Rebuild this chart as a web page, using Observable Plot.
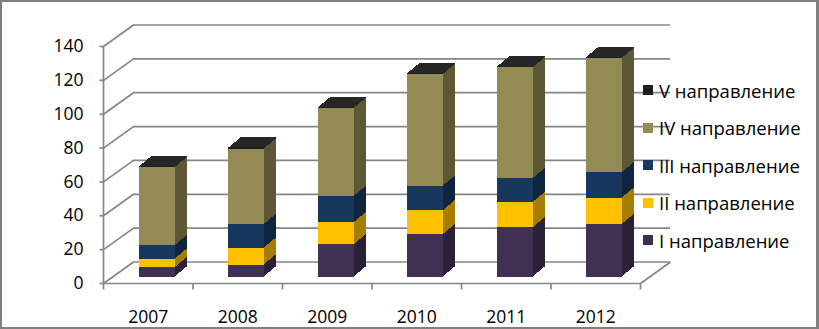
<!DOCTYPE html>
<html>
<head>
<meta charset="utf-8">
<script src="https://cdn.jsdelivr.net/npm/d3@7"></script>
<script src="https://cdn.jsdelivr.net/npm/@observablehq/plot@0.6"></script>
<style>
  html, body { margin: 0; padding: 0; background: #fff; }
  #wrap { position: relative; width: 819px; height: 329px; overflow: hidden; font-family: "Open Sans", sans-serif; }
  #frame { position: absolute; left: 0; top: 0; width: 819px; height: 329px; box-sizing: border-box;
           border-style: solid; border-color: #7f7f7f; border-width: 2px 3px 2px 2px; pointer-events: none; }
  .leg { position: absolute; left: 643px; height: 24px; display: flex; align-items: center; font-size: 18.5px; color: #000; white-space: nowrap; }
  .leg span.sw { display: inline-block; width: 10px; height: 10px; margin-right: 6px; }
</style>
</head>
<body>
<div id="wrap"></div>
<script>
// ---- data ----
const years = ["2007", "2008", "2009", "2010", "2011", "2012"];
const seriesNames = ["I направление", "II направление", "III направление", "IV направление", "V направление"];
const seriesI   = [5.5, 7, 19, 25, 29, 31];
const seriesII  = [5, 10, 13, 14, 15, 15.5];
const seriesIII = [8, 14, 15.5, 14.5, 14, 15];
const seriesIV  = [46, 44.5, 52, 66, 65.5, 67.5];
const seriesV   = [0.8, 0.8, 0.8, 0.8, 0.8, 0.8];
const yTicks = [0, 20, 40, 60, 80, 100, 120, 140];

// ---- styles ----
const frontColors = ["#403152", "#FFC000", "#17375E", "#948A54", "#1F1F1F"];
const sideColors  = ["#2A2037", "#A67D00", "#0F243E", "#5E5736", "#262626"];
const grid = "#868686";

const W = 819, H = 329, ML = 103, MR = 179, MT = 46, MB = 46;
const pxX = (W - ML - MR) / years.length;   // pixels per category unit
const pxY = (H - MT - MB) / 140;            // pixels per value unit
const wall = {dx: 30, dy: 21.5};            // back wall depth (px)
const barOff = {dx: 9, dy: 6.5};            // bar front plane offset (px)
const barDepth = {dx: 12, dy: 10};          // bar extrusion (px)
const bw = 36 / pxX;                        // bar width in category units

const allSeries = [seriesI, seriesII, seriesIII, seriesIV, seriesV];
const table = [];
years.forEach((yr, i) => {
  let cum = 0;
  allSeries.forEach((arr, s) => {
    table.push({i, s, year: yr, y1: cum, y2: cum + arr[i]});
    cum += arr[i];
  });
});

const x1 = d => d.i + 0.5 - bw / 2;
const x2 = d => d.i + 0.5 + bw / 2;

const marks = [];
const sw = 1.7;
// back wall gridlines
marks.push(Plot.ruleY(yTicks, {dx: wall.dx, dy: -wall.dy, stroke: grid, strokeWidth: sw}));
// left side-wall diagonals
marks.push(Plot.link(yTicks, {x1: 0, x2: wall.dx / pxX, y1: d => d, y2: d => d + wall.dy / pxY, stroke: grid, strokeWidth: sw}));
// floor right diagonal
marks.push(Plot.link([0], {x1: years.length, x2: years.length + wall.dx / pxX, y1: 0, y2: wall.dy / pxY, stroke: grid, strokeWidth: sw}));
// floor front line
marks.push(Plot.ruleY([0], {stroke: grid, strokeWidth: sw}));
// left axis line
marks.push(Plot.ruleX([0], {y1: 0, y2: 140, stroke: grid, strokeWidth: sw}));
// y ticks
marks.push(Plot.link(yTicks, {x1: -4 / pxX, x2: 0, y1: d => d, y2: d => d, stroke: grid, strokeWidth: sw}));
// x ticks at category boundaries
marks.push(Plot.link(d3.range(years.length + 1), {x1: d => d, x2: d => d, y1: 0, y2: -6 / pxY, stroke: grid, strokeWidth: sw}));

// bar extrusions (side + top faces)
for (let k = barDepth.dx; k >= 1; k--) {
  marks.push(Plot.rect(table, {
    x1, x2, y1: "y1", y2: "y2",
    fill: d => sideColors[d.s],
    dx: barOff.dx + k,
    dy: -barOff.dy - k * barDepth.dy / barDepth.dx,
    shapeRendering: "crispEdges"
  }));
}
// bar front faces
marks.push(Plot.rect(table, {
  x1, x2, y1: "y1", y2: "y2",
  fill: d => frontColors[d.s],
  dx: barOff.dx, dy: -barOff.dy,
  shapeRendering: "crispEdges"
}));

// y labels
marks.push(Plot.text(yTicks, {x: 0, y: d => d, text: d => String(d), textAnchor: "end", dx: -20, fontSize: 17.5, fill: "#000"}));
// x labels
marks.push(Plot.text(years, {x: (d, i) => i + 0.5, y: 0, text: d => d, dy: 33.5, fontSize: 17.5, fill: "#000"}));

const chart = Plot.plot({
  width: W, height: H,
  marginLeft: ML, marginRight: MR, marginTop: MT, marginBottom: MB,
  x: {domain: [0, years.length], axis: null},
  y: {domain: [0, 140], axis: null},
  color: {type: "identity"},
  style: {background: "#fff", fontFamily: "'Open Sans', sans-serif", fontSize: "17px", overflow: "visible"},
  marks
});

const wrap = document.getElementById("wrap");
wrap.appendChild(chart);

// legend (top to bottom: V ... I)
const legendCenters = [90, 127.5, 165, 202.5, 240];
seriesNames.slice().reverse().forEach((name, j) => {
  const s = seriesNames.length - 1 - j;
  const row = document.createElement("div");
  row.className = "leg";
  row.style.top = (legendCenters[j] - 12) + "px";
  const swatch = document.createElement("span");
  swatch.className = "sw";
  swatch.style.background = frontColors[s];
  row.appendChild(swatch);
  row.appendChild(document.createTextNode(name));
  wrap.appendChild(row);
});

const frame = document.createElement("div");
frame.id = "frame";
wrap.appendChild(frame);
</script>
</body>
</html>
